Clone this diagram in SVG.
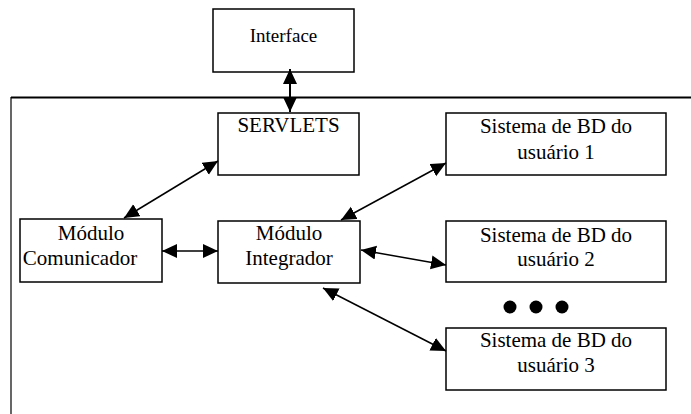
<svg xmlns="http://www.w3.org/2000/svg" width="691" height="414" viewBox="0 0 691 414">
<style>
.box{fill:#fff;stroke:#000;stroke-width:1.5}
.t{font-family:"Liberation Serif","Times New Roman",serif;font-size:21px;fill:#000;text-anchor:middle}
.c{stroke:#000;stroke-width:1.5;fill:none;marker-start:url(#ah);marker-end:url(#ah)}
</style>
<defs>
<marker id="ah" markerUnits="userSpaceOnUse" markerWidth="17" markerHeight="15" refX="15" refY="7" orient="auto-start-reverse" viewBox="0 0 17 15">
<path d="M0,0 L15,7 L0,14 z" fill="#000"/>
</marker>
</defs>
<g id="frame">
<line x1="11" y1="97.5" x2="691" y2="97.5" stroke="#000" stroke-width="2"/>
<line x1="11" y1="97" x2="11" y2="414" stroke="#000" stroke-width="1.2"/>
</g>
<g id="interface">
<rect class="box" x="213" y="9" width="141" height="63"/>
<text class="t" x="283.5" y="42" style="font-size:19px">Interface</text>
</g>
<g id="servlets">
<rect class="box" x="218" y="113" width="141" height="62"/>
<text class="t" x="288.5" y="132">SERVLETS</text>
</g>
<g id="bd1">
<rect class="box" x="446" y="113" width="220" height="62"/>
<text class="t" x="556" y="133">Sistema de BD do</text>
<text class="t" x="556" y="159">usuário 1</text>
</g>
<g id="comunicador">
<rect class="box" x="20" y="219" width="142" height="63"/>
<text class="t" x="91" y="240">Módulo</text>
<text class="t" x="80" y="265">Comunicador</text>
</g>
<g id="integrador">
<rect class="box" x="218" y="221" width="142" height="62"/>
<text class="t" x="289" y="240">Módulo</text>
<text class="t" x="289" y="265">Integrador</text>
</g>
<g id="bd2">
<rect class="box" x="446" y="221" width="220" height="61"/>
<text class="t" x="556" y="242">Sistema de BD do</text>
<text class="t" x="556" y="266">usuário 2</text>
</g>
<g id="dots">
<circle cx="510" cy="307" r="6.5"/>
<circle cx="536" cy="307" r="6.5"/>
<circle cx="562" cy="307" r="6.5"/>
</g>
<g id="bd3">
<rect class="box" x="446" y="328" width="220" height="62"/>
<text class="t" x="556" y="347">Sistema de BD do</text>
<text class="t" x="556" y="372">usuário 3</text>
</g>
<g id="connectors">
<line class="c" x1="290" y1="69" x2="290" y2="112" style="stroke-width:2"/>
<line class="c" x1="218" y1="161" x2="124" y2="218"/>
<line class="c" x1="446" y1="163" x2="341" y2="220"/>
<line class="c" x1="162" y1="251" x2="218" y2="251"/>
<line class="c" x1="361" y1="250" x2="446" y2="265"/>
<line class="c" x1="323" y1="288" x2="446" y2="351"/>
</g>
</svg>
